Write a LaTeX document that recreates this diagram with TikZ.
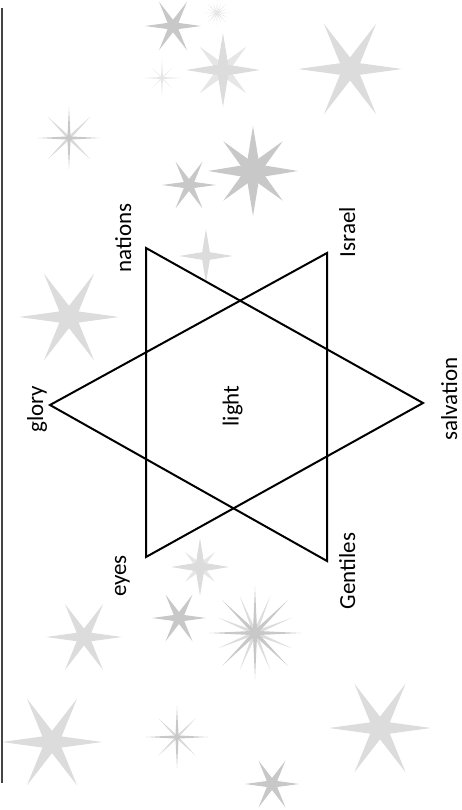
\documentclass[tikz,border=0pt]{standalone}
\usepackage{fontspec}
\setmainfont{Carlito}
\usetikzlibrary{shapes.geometric}
\definecolor{starmid}{HTML}{C8C8C8}
\definecolor{starlight}{HTML}{DCDCDC}
\definecolor{starpale}{HTML}{E6E6E6}
\definecolor{rulegray}{HTML}{444444}

\begin{document}
\begin{tikzpicture}[
    x=1pt, y=-1pt,
    spark/.style={star, draw=none, inner sep=0pt},
    hexa/.style={spark, star points=6, star point ratio=4.5, rotate=30},
    quad/.style={spark, star points=4, star point ratio=5},
    thinspark/.style={spark, star points=4, star point ratio=14},
    burst/.style={spark, star points=8, star point ratio=9},
    edge/.style={line width=2pt},
    word/.style={rotate=90, anchor=base, inner sep=0pt, font=\fontsize{23}{27}\selectfont}
]
\useasboundingbox (0,0) rectangle (462,810);

% background stars, six points
\foreach \x/\y/\r/\c [count=\i] in {173/26/28/starmid, 350/69/52/starlight, 189/185/27/starmid,
    69/317/50/starlight, 84/637/38/starlight, 179/618/27/starmid,
    52/742/50/starlight, 380/728/51/starlight, 272/784/27/starmid}
  \node[hexa, fill=\c, minimum size=2*\r] (hexa\i) at (\x,\y) {};

% eight points: paler diagonals behind the cross
\foreach \x/\y/\r/\d/\c/\e [count=\i] in {223/70/37/33/starlight/starpale,
    253/171/45/42/starmid/starmid, 200/567/29/21/starlight/starpale} {
  \node[quad, fill=\e, rotate=45, minimum size=2*\d] (diag\i) at (\x,\y) {};
  \node[quad, fill=\c, minimum size=2*\r] (cross\i) at (\x,\y) {};
}
\node[quad, fill=starlight, minimum size=54] (four) at (206,256) {};

% thin sparkles
\foreach \x/\y/\r/\d/\c [count=\i] in {162/78/19/14/starpale, 69/138/31/30/starmid, 177/737/31/26/starmid} {
  \node[thinspark, fill=\c!70, rotate=45, minimum size=2*\d] (tdiag\i) at (\x,\y) {};
  \node[thinspark, fill=\c, minimum size=2*\r] (tcross\i) at (\x,\y) {};
}

% bursts
\node[burst, fill=starlight, rotate=22.5, minimum size=80] (burstin) at (255,633) {};
\node[burst, fill=starmid, minimum size=92] (burstout) at (255,633) {};
\node[burst, fill=starpale, rotate=22.5, minimum size=22] (tinyin) at (217,13) {};
\node[burst, fill=starpale, minimum size=26] (tinyout) at (217,13) {};

\draw[rulegray, line width=2pt] (2,8) -- (2,783);

% the two triangles
\coordinate (glory) at (50,405);
\coordinate (israel) at (327,253);
\coordinate (gentiles) at (327,561);
\coordinate (salvation) at (423,403);
\coordinate (nations) at (146,248);
\coordinate (eyes) at (146,557);
\draw[edge] (glory) -- (israel) -- (gentiles) -- cycle;
\draw[edge] (salvation) -- (nations) -- (eyes) -- cycle;

\node[word] (glorylbl) at (43,409) {glory};
\node[word] (nationslbl) at (131,238) {nations};
\node[word] (israellbl) at (355,232) {Israel};
\node[word] (salvationlbl) at (457,399) {salvation};
\node[word] (eyeslbl) at (126,576) {eyes};
\node[word] (gentileslbl) at (355,571) {Gentiles};
\node[word] (lightlbl) at (238.5,406) {light};
\end{tikzpicture}
\end{document}
